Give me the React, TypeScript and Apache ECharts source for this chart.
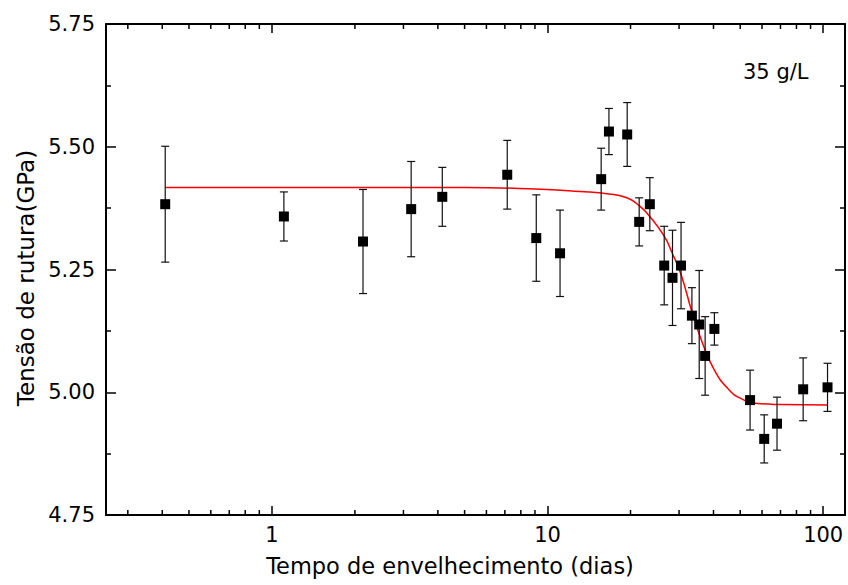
import React, { useEffect, useRef } from "react";
import * as echarts from "echarts";

// Measured data (days of ageing, tensile strength GPa, error bar half-width)
const days = [0.41, 1.105, 2.14, 3.2, 4.15, 7.14, 9.1, 11.1, 15.65, 16.7, 19.45, 21.5, 23.5, 26.5, 28.4, 30.5, 33.4, 35.5, 37.3, 40.3, 54.3, 61.1, 68, 84.6, 103.7];
const strength = [5.383, 5.358, 5.307, 5.373, 5.398, 5.443, 5.314, 5.283, 5.434, 5.531, 5.525, 5.347, 5.383, 5.258, 5.233, 5.258, 5.156, 5.138, 5.074, 5.129, 4.984, 4.905, 4.936, 5.006, 5.010];
const errors = [0.118, 0.05, 0.106, 0.097, 0.06, 0.07, 0.088, 0.088, 0.063, 0.047, 0.065, 0.049, 0.054, 0.08, 0.097, 0.088, 0.057, 0.11, 0.08, 0.033, 0.061, 0.049, 0.054, 0.064, 0.049];

// Fitted curve
const fitDays = [0.41, 5, 9, 13.1, 16.7, 19.4, 21.5, 23.5, 26.5, 28.3, 30.5, 33.4, 36.5, 40.3, 45, 50, 58, 70, 104];
const fitValues = [5.417, 5.417, 5.414, 5.409, 5.404, 5.396, 5.38, 5.358, 5.318, 5.284, 5.24, 5.164, 5.1, 5.045, 5.008, 4.988, 4.977, 4.975, 4.974];

// Axes
const xMin = 0.25;
const xMax = 120;
const xMajorLabels = [1, 10, 100];
const xMinorTicks = [0.3, 0.4, 0.5, 0.6, 0.7, 0.8, 0.9, 2, 3, 4, 5, 6, 7, 8, 9, 20, 30, 40, 50, 60, 70, 80, 90];
const yMin = 4.75;
const yMax = 5.75;
const yInterval = 0.25;

const annotation = "35 g/L";
const xTitle = "Tempo de envelhecimento (dias)";
const yTitle = "Tensão de rutura(GPa)";

const FONT = '"DejaVu Sans", "Liberation Sans", sans-serif';

export default function App() {
  const ref = useRef<HTMLDivElement>(null);

  useEffect(() => {
    if (!ref.current) return;
    const chart = echarts.init(ref.current, null, { renderer: "svg" });

    const axisLineStyle = { color: "#000", width: 2 };
    const xLabelFormatter = (v: number) => {
      const r = Math.log10(v);
      const rr = Math.round(r);
      if (Math.abs(r - rr) < 1e-6) {
        const val = Math.round(Math.pow(10, rr));
        if (xMajorLabels.indexOf(val) >= 0) return String(val);
      }
      return "";
    };

    const xAxisBase = {
      type: "log",
      logBase: 10,
      min: xMin,
      max: xMax,
      axisLine: { show: true, lineStyle: axisLineStyle },
      axisTick: { show: true, inside: true, length: 9, lineStyle: { color: "#000", width: 1.5 } },
      splitLine: { show: false },
      minorTick: { show: false },
      minorSplitLine: { show: false },
    };

    const yAxisBase = {
      type: "value",
      min: yMin,
      max: yMax,
      interval: yInterval,
      axisLine: { show: true, lineStyle: axisLineStyle },
      axisTick: { show: true, inside: true, length: 10, lineStyle: { color: "#000", width: 1.5 } },
      minorTick: { show: true, splitNumber: 2, length: 5, lineStyle: { color: "#000", width: 1.5 } },
      splitLine: { show: false },
      minorSplitLine: { show: false },
    };

    chart.setOption({
      animation: false,
      backgroundColor: "#fff",
      grid: { left: 106, right: 3, top: 24, bottom: 70, containLabel: false },
      xAxis: [
        {
          ...xAxisBase,
          position: "bottom",
          axisLabel: {
            show: true,
            formatter: xLabelFormatter,
            fontFamily: FONT,
            fontSize: 21,
            color: "#000",
            margin: 9,
          },
        },
        {
          ...xAxisBase,
          position: "top",
          axisLabel: { show: false },
        },
      ],
      yAxis: [
        {
          ...yAxisBase,
          position: "left",
          axisLabel: {
            show: true,
            formatter: (v: number) => v.toFixed(2),
            fontFamily: FONT,
            fontSize: 21,
            color: "#000",
            margin: 11,
          },
        },
        {
          ...yAxisBase,
          position: "right",
          axisLabel: { show: false },
        },
      ],
      graphic: [
        {
          type: "text",
          x: 743,
          y: 72,
          style: { text: annotation, fill: "#000", font: `21px ${FONT}`, align: "left", verticalAlign: "middle" },
        },
        {
          type: "text",
          x: 450,
          y: 566,
          style: { text: xTitle, fill: "#000", font: `22.5px ${FONT}`, align: "center", verticalAlign: "middle" },
        },
        {
          type: "text",
          x: 26,
          y: 278,
          rotation: Math.PI / 2,
          style: { text: yTitle, fill: "#000", font: `23px ${FONT}`, align: "center", verticalAlign: "middle" },
        },
      ],
      series: [
        {
          type: "custom",
          name: "minorTicks",
          xAxisIndex: 0,
          yAxisIndex: 0,
          silent: true,
          z: 1,
          data: xMinorTicks.map((v) => [v, yMin]),
          renderItem: (_params: any, api: any) => {
            const v = api.value(0);
            const b = api.coord([v, yMin]);
            const t = api.coord([v, yMax]);
            const style = { stroke: "#000", lineWidth: 1.5 };
            return {
              type: "group",
              children: [
                { type: "line", shape: { x1: b[0], y1: b[1], x2: b[0], y2: b[1] - 5 }, style },
                { type: "line", shape: { x1: t[0], y1: t[1], x2: t[0], y2: t[1] + 5 }, style },
              ],
            };
          },
        },
        {
          type: "line",
          name: "fit",
          xAxisIndex: 0,
          yAxisIndex: 0,
          data: fitDays.map((d, i) => [d, fitValues[i]]),
          showSymbol: false,
          symbol: "none",
          smooth: true,
          color: "#ff0000",
          itemStyle: { color: "#ff0000" },
          lineStyle: { color: "#ff0000", width: 1.5 },
          z: 2,
          silent: true,
        },
        {
          type: "custom",
          name: "errorBars",
          xAxisIndex: 0,
          yAxisIndex: 0,
          silent: true,
          z: 3,
          data: days.map((d, i) => [d, strength[i] - errors[i], strength[i] + errors[i]]),
          encode: { x: 0, y: [1, 2] },
          renderItem: (_params: any, api: any) => {
            const x = api.value(0);
            const lo = api.coord([x, api.value(1)]);
            const hi = api.coord([x, api.value(2)]);
            const w = 4;
            const style = { stroke: "#111", lineWidth: 1.2, fill: "none" };
            return {
              type: "group",
              children: [
                { type: "line", shape: { x1: lo[0], y1: lo[1], x2: hi[0], y2: hi[1] }, style },
                { type: "line", shape: { x1: lo[0] - w, y1: lo[1], x2: lo[0] + w, y2: lo[1] }, style },
                { type: "line", shape: { x1: hi[0] - w, y1: hi[1], x2: hi[0] + w, y2: hi[1] }, style },
              ],
            };
          },
        },
        {
          type: "scatter",
          name: "data",
          xAxisIndex: 0,
          yAxisIndex: 0,
          data: days.map((d, i) => [d, strength[i]]),
          symbol: "rect",
          symbolSize: 10,
          itemStyle: { color: "#000", opacity: 1 },
          z: 4,
        },
      ],
    });

    return () => chart.dispose();
  }, []);

  return (
    <div
      ref={ref}
      style={{ position: "fixed", left: 0, top: 0, width: 848, height: 585, background: "#fff" }}
    />
  );
}
